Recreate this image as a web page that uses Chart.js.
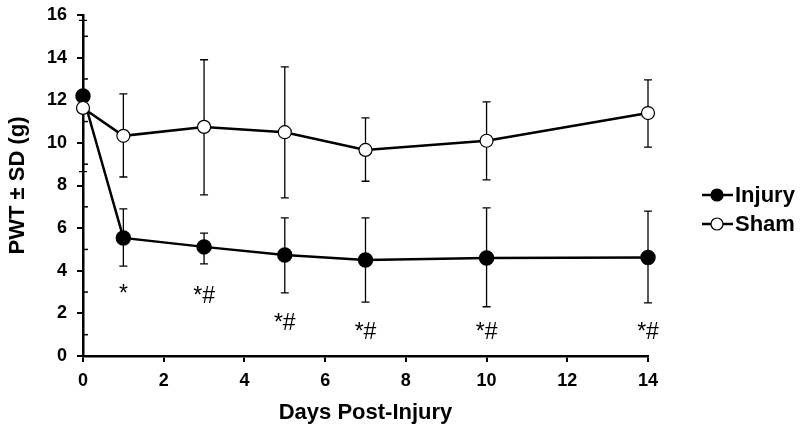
<!DOCTYPE html>
<html>
<head>
<meta charset="utf-8">
<script src="https://cdn.jsdelivr.net/npm/chart.js@4"></script>
<style>
  html, body { margin: 0; padding: 0; background: #fff; }
  #wrap { width: 800px; height: 434px; }
</style>
</head>
<body>
<div id="wrap"><canvas id="myChart" width="800" height="434"></canvas></div>
<script>
// days after injury
const days = [0, 1, 3, 5, 7, 10, 14];

// mean paw withdrawal threshold (g)
const injuryMean = [12.2, 5.54, 5.12, 4.74, 4.5, 4.6, 4.62];
const shamMean   = [11.64, 10.33, 10.75, 10.5, 9.67, 10.1, 11.4];

// error bar ends (mean ± SD)
const injuryHigh = [15.75, 6.9, 5.77, 6.48, 6.48, 6.95, 6.8];
const injuryLow  = [8.65, 4.22, 4.32, 2.96, 2.53, 2.31, 2.49];
const shamHigh   = [11.64, 12.3, 13.9, 13.57, 11.17, 11.92, 12.96];
const shamLow    = [11.64, 8.4, 7.56, 7.42, 8.2, 8.26, 9.8];

// significance marks under the injury curve
const markDays   = [1, 3, 5, 7, 10, 14];
const markLabels = ['*', '*#', '*#', '*#', '*#', '*#'];
const markY      = [2.95, 2.9, 1.6, 1.2, 1.2, 1.2];

const yTicks = [0, 2, 4, 6, 8, 10, 12, 14, 16];
const xTicks = [0, 2, 4, 6, 8, 10, 12, 14];

const FONT = '"Liberation Sans", Arial, sans-serif';

function toPoints(xs, ys) {
    return xs.map(function(x, i) { return { x: x, y: ys[i] }; });
}

const errorBars = {
    id: 'errorBars',
    beforeDatasetsDraw: function(chart) {
        const ctx = chart.ctx;
        const xs = chart.scales.x, ys = chart.scales.y;
        const sets = [[injuryLow, injuryHigh], [shamLow, shamHigh]];
        ctx.save();
        ctx.strokeStyle = '#000';
        ctx.lineWidth = 1.3;
        sets.forEach(function(s) {
            days.forEach(function(d, i) {
                const px = xs.getPixelForValue(d);
                const lo = ys.getPixelForValue(s[0][i]);
                const hi = ys.getPixelForValue(s[1][i]);
                if (Math.abs(lo - hi) < 1) return;
                ctx.beginPath();
                ctx.moveTo(px, lo); ctx.lineTo(px, hi);
                ctx.moveTo(px - 4, lo); ctx.lineTo(px + 4, lo);
                ctx.moveTo(px - 4, hi); ctx.lineTo(px + 4, hi);
                ctx.stroke();
            });
        });
        ctx.restore();
    }
};

const extras = {
    id: 'extras',
    afterDraw: function(chart) {
        const ctx = chart.ctx;
        const xs = chart.scales.x, ys = chart.scales.y;
        ctx.save();
        // minor ticks inside the y axis
        ctx.strokeStyle = '#000';
        ctx.lineWidth = 1.5;
        for (let v = 1; v < 16; v += 2) {
            const py = ys.getPixelForValue(v);
            ctx.beginPath();
            ctx.moveTo(xs.left, py); ctx.lineTo(xs.left + 5, py);
            ctx.stroke();
        }
        // significance marks
        ctx.fillStyle = '#000';
        ctx.font = '23px ' + FONT;
        ctx.textAlign = 'center';
        ctx.textBaseline = 'middle';
        markDays.forEach(function(d, i) {
            ctx.fillText(markLabels[i], xs.getPixelForValue(d), ys.getPixelForValue(markY[i]) + 2);
        });
        // legend
        const items = [['Injury', '#000'], ['Sham', '#fff']];
        ctx.font = 'bold 22px ' + FONT;
        ctx.textAlign = 'left';
        items.forEach(function(it, i) {
            const y = 195 + i * 29;
            ctx.lineWidth = 2.5;
            ctx.beginPath();
            ctx.moveTo(702, y); ctx.lineTo(733, y);
            ctx.stroke();
            ctx.beginPath();
            ctx.arc(717, y, 6, 0, Math.PI * 2);
            ctx.fillStyle = it[1];
            ctx.fill();
            ctx.lineWidth = 1.2;
            ctx.stroke();
            ctx.fillStyle = '#000';
            ctx.fillText(it[0], 735, y + 1);
        });
        ctx.restore();
    }
};

function initChart() {
    const ctx = document.getElementById('myChart').getContext('2d');
    new Chart(ctx, {
        type: 'line',
        data: {
            datasets: [{
                label: 'Sham',
                data: toPoints(days, shamMean),
                borderColor: '#000',
                borderWidth: 2.5,
                backgroundColor: '#fff',
                pointBackgroundColor: '#fff',
                pointBorderColor: '#000',
                pointBorderWidth: 1.2,
                pointRadius: 6.5,
                clip: false,
                order: 0
            }, {
                label: 'Injury',
                data: toPoints(days, injuryMean),
                borderColor: '#000',
                borderWidth: 2.5,
                backgroundColor: '#000',
                pointBackgroundColor: '#000',
                pointBorderColor: '#000',
                pointRadius: 6.5,
                clip: false,
                order: 1
            }]
        },
        options: {
            responsive: false,
            animation: false,
            layout: { padding: { top: 15, right: 152, left: 0, bottom: 0 } },
            plugins: {
                legend: { display: false },
                tooltip: { enabled: false }
            },
            scales: {
                x: {
                    type: 'linear',
                    min: 0, max: 14,
                    afterFit: function(s) { s.height = 78; },
                    afterBuildTicks: function(s) { s.ticks = xTicks.map(function(v) { return { value: v }; }); },
                    grid: { drawOnChartArea: false, drawTicks: true, tickLength: 6, color: '#000', lineWidth: 2 },
                    border: { color: '#000', width: 2.5 },
                    ticks: {
                        color: '#000', padding: 8,
                        font: { family: FONT, size: 18, weight: 'bold' }
                    },
                    title: {
                        display: true, text: 'Days Post-Injury', color: '#000',
                        padding: { top: 10, bottom: 8 },
                        font: { family: FONT, size: 22, weight: 'bold' }
                    }
                },
                y: {
                    min: 0, max: 16,
                    afterFit: function(s) { s.width = 83; s.paddingTop = 0; s.paddingBottom = 0; },
                    afterBuildTicks: function(s) { s.ticks = yTicks.map(function(v) { return { value: v }; }); },
                    grid: { drawOnChartArea: false, drawTicks: true, tickLength: 6, color: '#000', lineWidth: 2 },
                    border: { color: '#000', width: 2.5 },
                    ticks: {
                        color: '#000', padding: 10,
                        font: { family: FONT, size: 18, weight: 'bold' }
                    },
                    title: {
                        display: true, text: 'PWT ± SD (g)', color: '#000',
                        padding: { top: 5, bottom: 0 },
                        font: { family: FONT, size: 22, weight: 'bold' }
                    }
                }
            }
        },
        plugins: [errorBars, extras]
    });
}

document.addEventListener('DOMContentLoaded', initChart);
</script>
</body>
</html>
